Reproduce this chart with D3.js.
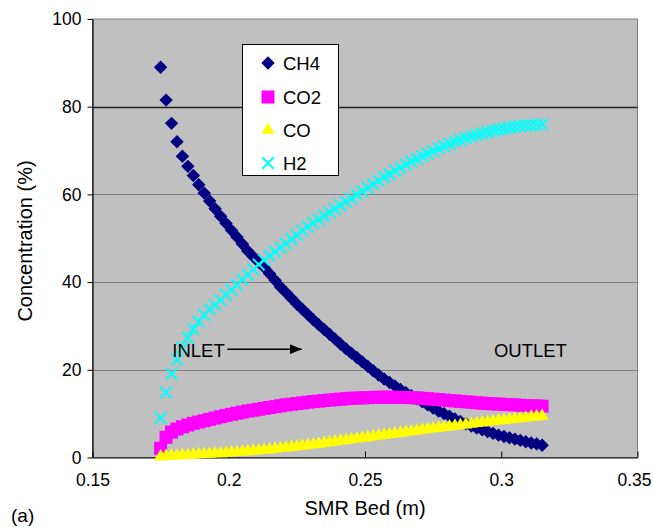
<!DOCTYPE html>
<html>
<head>
<meta charset="utf-8">
<script src="https://cdn.jsdelivr.net/npm/d3@7"></script>
<style>
  body { margin: 0; background: #fff; }
  svg text { font-family: Arial, "Liberation Sans", sans-serif; fill: #000; }
</style>
</head>
<body>
<svg id="chart" width="653" height="527"></svg>
<script>
// bed position (m)
const bedPos = [
  0.175, 0.177, 0.179, 0.181, 0.183, 0.185, 0.187, 0.189, 0.191, 0.193,
  0.195, 0.197, 0.199, 0.201, 0.203, 0.205, 0.207, 0.209, 0.211, 0.213,
  0.215, 0.217, 0.219, 0.221, 0.223, 0.225, 0.227, 0.229, 0.231, 0.233,
  0.235, 0.237, 0.239, 0.241, 0.243, 0.245, 0.247, 0.249, 0.251, 0.253,
  0.255, 0.257, 0.259, 0.261, 0.263, 0.265, 0.267, 0.269, 0.271, 0.273,
  0.275, 0.277, 0.279, 0.281, 0.283, 0.285, 0.287, 0.289, 0.291, 0.293,
  0.295, 0.297, 0.299, 0.301, 0.303, 0.305, 0.307, 0.309, 0.311, 0.313,
  0.315
];

// concentrations (%)
const ch4 = [
  89.0, 81.5, 76.2, 72.0, 68.7, 66.4, 64.3, 62.2, 60.3, 58.5,
  56.7, 55.0, 53.4, 51.8, 50.3, 48.7, 47.1, 45.8, 44.6, 43.4,
  41.9, 40.4, 38.9, 37.6, 36.3, 35.0, 33.8, 32.6, 31.4, 30.3,
  29.2, 28.1, 27.0, 25.9, 24.8, 23.8, 22.8, 21.8, 20.8, 19.8,
  18.8, 17.9, 17.1, 16.3, 15.5, 14.8, 14.1, 13.4, 12.7, 12.0,
  11.3, 10.6, 10.0, 9.4, 8.8, 8.2, 7.7, 7.2, 6.7, 6.3,
  5.9, 5.5, 5.1, 4.8, 4.5, 4.2, 3.9, 3.6, 3.3, 3.1,
  2.8
];
const co2 = [
  2.1, 4.6, 5.8, 6.5, 7.0, 7.4, 7.8, 8.1, 8.4, 8.7,
  9.0, 9.3, 9.6, 9.85, 10.1, 10.35, 10.6, 10.8, 11.0, 11.2,
  11.4, 11.6, 11.8, 12.0, 12.15, 12.3, 12.45, 12.6, 12.75, 12.85,
  13.0, 13.1, 13.2, 13.3, 13.4, 13.5, 13.55, 13.6, 13.65, 13.7,
  13.75, 13.75, 13.75, 13.75, 13.7, 13.7, 13.65, 13.6, 13.5, 13.4,
  13.3, 13.2, 13.1, 13.0, 12.9, 12.8, 12.7, 12.6, 12.5, 12.4,
  12.3, 12.25, 12.2, 12.1, 12.05, 12.0, 11.9, 11.85, 11.8, 11.75,
  11.7
];
const co = [
  0.2, 0.3, 0.35, 0.4, 0.5, 0.55, 0.6, 0.7, 0.75, 0.8,
  0.9, 0.95, 1.05, 1.1, 1.2, 1.3, 1.4, 1.5, 1.6, 1.7,
  1.8, 1.95, 2.1, 2.2, 2.35, 2.5, 2.65, 2.8, 2.95, 3.1,
  3.3, 3.45, 3.6, 3.8, 3.95, 4.1, 4.3, 4.45, 4.6, 4.8,
  4.95, 5.1, 5.3, 5.45, 5.6, 5.8, 5.95, 6.1, 6.3, 6.45,
  6.6, 6.75, 6.9, 7.05, 7.2, 7.35, 7.5, 7.65, 7.8, 7.95,
  8.1, 8.25, 8.4, 8.5, 8.65, 8.8, 8.9, 9.05, 9.2, 9.3,
  9.45
];
const h2 = [
  9.0, 14.8, 19.1, 22.3, 25.0, 27.3, 29.3, 31.0, 32.5, 33.8,
  34.8, 35.9, 37.1, 38.2, 39.4, 40.6, 41.7, 42.9, 44.0, 45.0,
  46.0, 46.9, 47.9, 48.8, 49.8, 50.7, 51.7, 52.6, 53.5, 54.3,
  55.1, 55.9, 56.7, 57.5, 58.3, 59.1, 59.9, 60.7, 61.5, 62.3,
  63.1, 63.9, 64.6, 65.4, 66.1, 66.8, 67.5, 68.1, 68.7, 69.3,
  69.9, 70.5, 71.0, 71.5, 72.0, 72.4, 72.8, 73.2, 73.6, 73.9,
  74.2, 74.5, 74.8, 75.0, 75.2, 75.4, 75.6, 75.7, 75.8, 75.9,
  76.0
];

const seriesNames = ["CH4", "CO2", "CO", "H2"];
const xTicks = [0.15, 0.2, 0.25, 0.3, 0.35];
const yTicks = [0, 20, 40, 60, 80, 100];

// custom marker shapes (Excel-like)
const diamond = {
  draw(ctx, size) {
    const r = Math.sqrt(size / 2);
    ctx.moveTo(0, -r); ctx.lineTo(r, 0); ctx.lineTo(0, r); ctx.lineTo(-r, 0); ctx.closePath();
  }
};
const cross = {
  draw(ctx, size) {
    const r = Math.sqrt(size) / 2;
    ctx.moveTo(-r, -r); ctx.lineTo(r, r); ctx.moveTo(-r, r); ctx.lineTo(r, -r);
  }
};

const series = [
  { name: "CH4", values: ch4, type: diamond, size: 90, fill: "#000080", stroke: "none" },
  { name: "CO2", values: co2, type: d3.symbolSquare, size: 169, fill: "#ff00ff", stroke: "none" },
  { name: "CO", values: co, type: d3.symbolTriangle, size: 75, fill: "#ffff00", stroke: "none" },
  { name: "H2", values: h2, type: cross, size: 135, fill: "none", stroke: "#00ffff" }
];

const svg = d3.select("#chart");
const plotLeft = 92.5, plotRight = 637.5, plotTop = 19, plotBottom = 457.5;

const x = d3.scaleLinear().domain([0.15, 0.35]).range([plotLeft, plotRight]);
const y = d3.scaleLinear().domain([0, 100]).range([plotBottom, plotTop]);

// plot background + grey frame
svg.append("rect")
  .attr("x", plotLeft).attr("y", plotTop)
  .attr("width", plotRight - plotLeft).attr("height", plotBottom - plotTop)
  .attr("fill", "#c0c0c0")
  .attr("stroke", "#808080");

// gridlines
svg.append("g")
  .selectAll("line")
  .data(yTicks.filter(d => d > 0 && d < 100))
  .join("line")
  .attr("x1", plotLeft).attr("x2", plotRight)
  .attr("y1", d => Math.round(y(d)) + 0.5).attr("y2", d => Math.round(y(d)) + 0.5)
  .attr("stroke", d => d === 80 ? "#202020" : "#808080")
  .attr("stroke-width", d => d === 80 ? 1.5 : 1);

// axes
const yAxis = svg.append("g")
  .attr("transform", `translate(${plotLeft},0)`)
  .call(d3.axisLeft(y).tickValues(yTicks).tickSize(5).tickSizeOuter(0).tickPadding(6));
const xAxis = svg.append("g")
  .attr("transform", `translate(0,${plotBottom})`)
  .call(d3.axisBottom(x).tickValues(xTicks).tickFormat(d3.format("")).tickSize(-6).tickSizeOuter(0).tickPadding(16));

[yAxis, xAxis].forEach(g => {
  g.selectAll("text").style("font-size", "17.5px").attr("font-family", null);
  g.selectAll("line").attr("stroke", "#000");
  g.select(".domain").attr("stroke", "#000").attr("stroke-width", 1.2);
});
// last x label sits a little left of its tick, as in the original
xAxis.selectAll(".tick text").filter(d => d === 0.35).attr("dx", -3.5);

// markers, series by series
series.forEach(s => {
  svg.append("g")
    .selectAll("path")
    .data(bedPos.map((b, i) => [b, s.values[i]]))
    .join("path")
    .attr("transform", d => `translate(${x(d[0])},${y(d[1])})`)
    .attr("d", d3.symbol(s.type, s.size))
    .attr("fill", s.fill)
    .attr("stroke", s.stroke)
    .attr("stroke-width", 2);
});

// legend
const legend = svg.append("g");
legend.append("rect")
  .attr("x", 242.5).attr("y", 44.5)
  .attr("width", 96).attr("height", 131)
  .attr("fill", "#fff").attr("stroke", "#000");
const legendRows = [63, 97, 130, 163];
series.forEach((s, i) => {
  legend.append("path")
    .attr("transform", `translate(268,${legendRows[i]})`)
    .attr("d", d3.symbol(s.type, s.size))
    .attr("fill", s.fill)
    .attr("stroke", s.stroke)
    .attr("stroke-width", 2);
  legend.append("text")
    .attr("x", 283).attr("y", legendRows[i])
    .attr("dy", "0.36em")
    .style("font-size", "18.5px")
    .text(seriesNames[i]);
});

// annotations
svg.append("text")
  .attr("x", x(0.1793)).attr("y", y(23))
  .style("font-size", "18.5px")
  .text("INLET");
svg.append("defs").append("marker")
  .attr("id", "arrowhead")
  .attr("viewBox", "0 0 12 10")
  .attr("refX", 12).attr("refY", 5)
  .attr("markerWidth", 12).attr("markerHeight", 10)
  .attr("markerUnits", "userSpaceOnUse")
  .attr("orient", "auto")
  .append("path")
  .attr("d", "M0,0L12,5L0,10Z")
  .attr("fill", "#000");
svg.append("line")
  .attr("x1", x(0.1995)).attr("x2", x(0.2268))
  .attr("y1", y(24.7)).attr("y2", y(24.7))
  .attr("stroke", "#000").attr("stroke-width", 1.5)
  .attr("marker-end", "url(#arrowhead)");
svg.append("text")
  .attr("x", x(0.2973)).attr("y", y(23))
  .style("font-size", "18.5px")
  .text("OUTLET");

// axis titles
svg.append("text")
  .attr("transform", `translate(32,241) rotate(-90)`)
  .attr("text-anchor", "middle")
  .style("font-size", "20px")
  .text("Concentration (%)");
svg.append("text")
  .attr("x", x(0.25)).attr("y", 515)
  .attr("text-anchor", "middle")
  .style("font-size", "20px")
  .text("SMR Bed (m)");
svg.append("text")
  .attr("x", 11).attr("y", 522)
  .style("font-size", "19px")
  .text("(a)");
</script>
</body>
</html>
